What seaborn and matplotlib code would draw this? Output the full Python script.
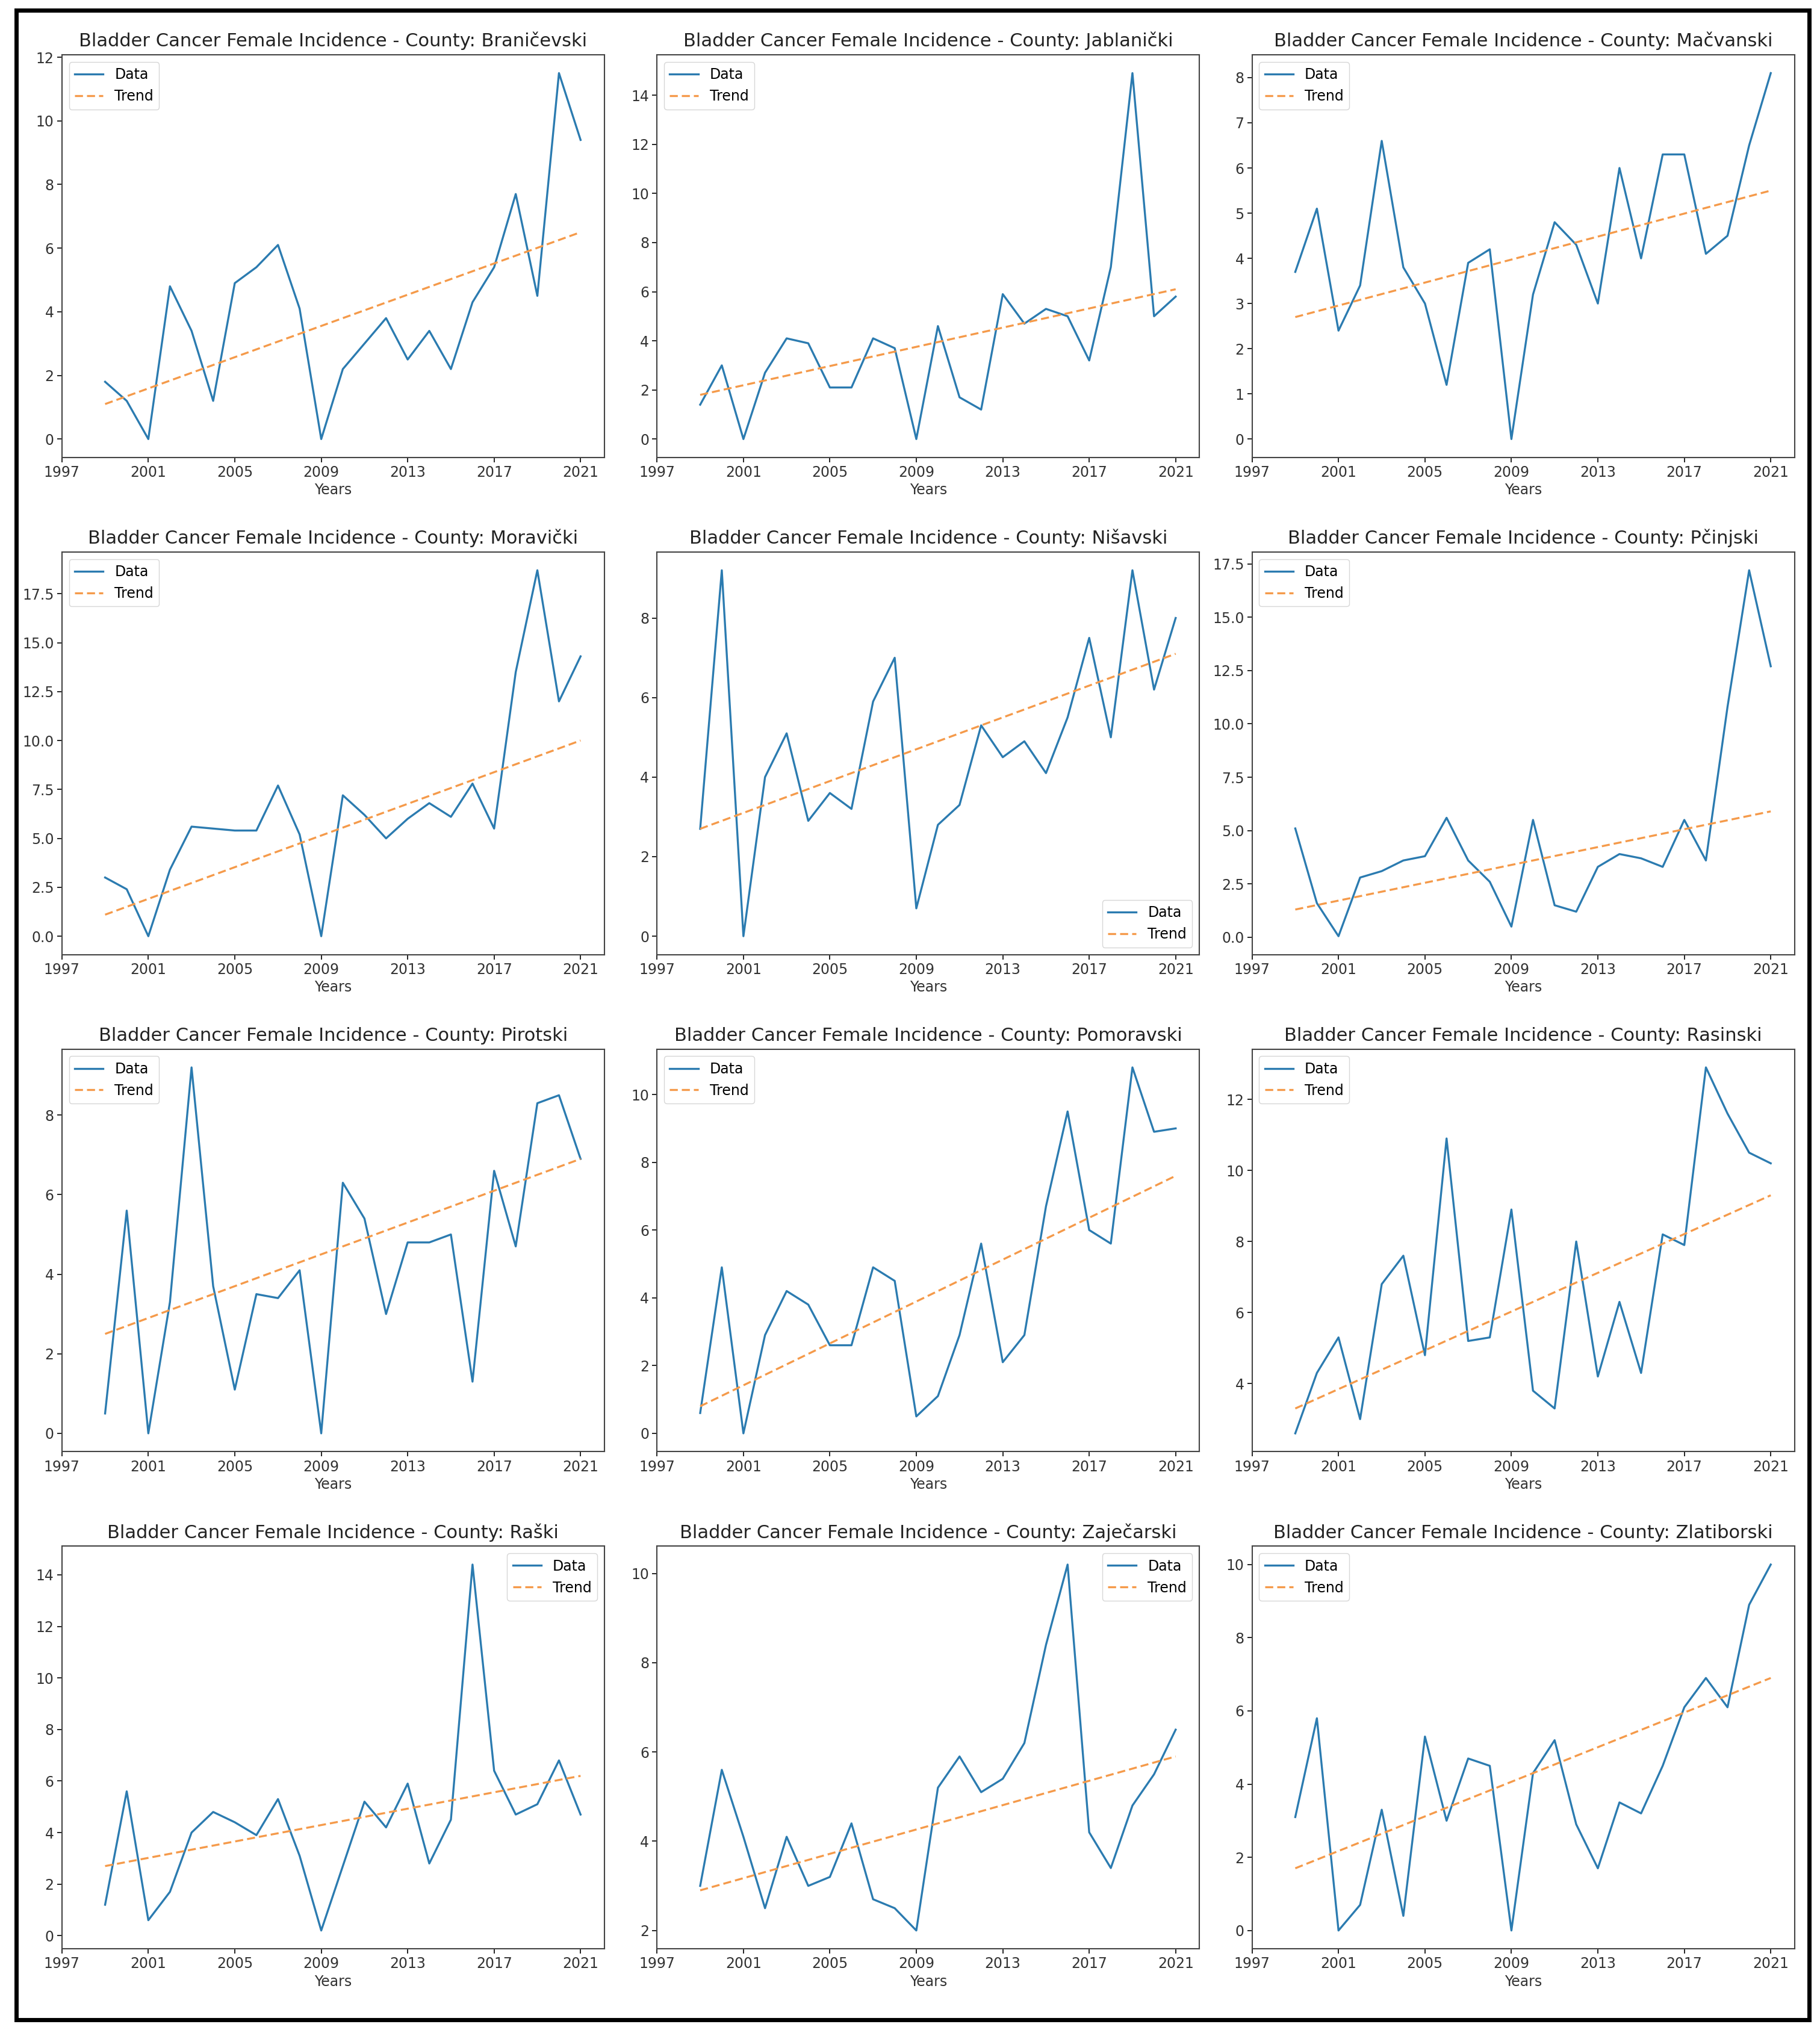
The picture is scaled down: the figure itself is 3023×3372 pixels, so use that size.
import numpy as np
import matplotlib
matplotlib.use("Agg")
import matplotlib.pyplot as plt
from matplotlib.patches import Rectangle
import seaborn as sns

# ---- data ----
years = list(range(1999, 2022))

counties = ["Braničevski", "Jablanički", "Mačvanski",
            "Moravički", "Nišavski", "Pčinjski",
            "Pirotski", "Pomoravski", "Rasinski",
            "Raški", "Zaječarski", "Zlatiborski"]

branicevski = [1.8, 1.2, 0.0, 4.8, 3.4, 1.2, 4.9, 5.4, 6.1, 4.1, 0.0, 2.2, 3.0, 3.8, 2.5, 3.4, 2.2, 4.3, 5.4, 7.7, 4.5, 11.5, 9.4]
jablanicki = [1.4, 3.0, 0.0, 2.7, 4.1, 3.9, 2.1, 2.1, 4.1, 3.7, 0.0, 4.6, 1.7, 1.2, 5.9, 4.7, 5.3, 5.0, 3.2, 7.0, 14.9, 5.0, 5.8]
macvanski = [3.7, 5.1, 2.4, 3.4, 6.6, 3.8, 3.0, 1.2, 3.9, 4.2, 0.0, 3.2, 4.8, 4.3, 3.0, 6.0, 4.0, 6.3, 6.3, 4.1, 4.5, 6.5, 8.1]
moravicki = [3.0, 2.4, 0.0, 3.4, 5.6, 5.5, 5.4, 5.4, 7.7, 5.2, 0.0, 7.2, 6.2, 5.0, 6.0, 6.8, 6.1, 7.8, 5.5, 13.5, 18.7, 12.0, 14.3]
nisavski = [2.7, 9.2, 0.0, 4.0, 5.1, 2.9, 3.6, 3.2, 5.9, 7.0, 0.7, 2.8, 3.3, 5.3, 4.5, 4.9, 4.1, 5.5, 7.5, 5.0, 9.2, 6.2, 8.0]
pcinjski = [5.1, 1.6, 0.05, 2.8, 3.1, 3.6, 3.8, 5.6, 3.6, 2.6, 0.5, 5.5, 1.5, 1.2, 3.3, 3.9, 3.7, 3.3, 5.5, 3.6, 10.8, 17.2, 12.7]
pirotski = [0.5, 5.6, 0.0, 3.3, 9.2, 3.7, 1.1, 3.5, 3.4, 4.1, 0.0, 6.3, 5.4, 3.0, 4.8, 4.8, 5.0, 1.3, 6.6, 4.7, 8.3, 8.5, 6.9]
pomoravski = [0.6, 4.9, 0.0, 2.9, 4.2, 3.8, 2.6, 2.6, 4.9, 4.5, 0.5, 1.1, 2.9, 5.6, 2.1, 2.9, 6.7, 9.5, 6.0, 5.6, 10.8, 8.9, 9.0]
rasinski = [2.6, 4.3, 5.3, 3.0, 6.8, 7.6, 4.8, 10.9, 5.2, 5.3, 8.9, 3.8, 3.3, 8.0, 4.2, 6.3, 4.3, 8.2, 7.9, 12.9, 11.6, 10.5, 10.2]
raski = [1.2, 5.6, 0.6, 1.7, 4.0, 4.8, 4.4, 3.9, 5.3, 3.1, 0.2, 2.7, 5.2, 4.2, 5.9, 2.8, 4.5, 14.4, 6.4, 4.7, 5.1, 6.8, 4.7]
zajecarski = [3.0, 5.6, 4.1, 2.5, 4.1, 3.0, 3.2, 4.4, 2.7, 2.5, 2.0, 5.2, 5.9, 5.1, 5.4, 6.2, 8.4, 10.2, 4.2, 3.4, 4.8, 5.5, 6.5]
zlatiborski = [3.1, 5.8, 0.0, 0.7, 3.3, 0.4, 5.3, 3.0, 4.7, 4.5, 0.0, 4.3, 5.2, 2.9, 1.7, 3.5, 3.2, 4.5, 6.1, 6.9, 6.1, 8.9, 10.0]

series = [branicevski, jablanicki, macvanski, moravicki, nisavski, pcinjski,
          pirotski, pomoravski, rasinski, raski, zajecarski, zlatiborski]

# trend line values at 1999 and 2021
trend_start = [1.1, 1.8, 2.7, 1.1, 2.7, 1.3, 2.5, 0.8, 3.3, 2.7, 2.9, 1.7]
trend_end = [6.5, 6.1, 5.5, 10.0, 7.1, 5.9, 6.9, 7.6, 9.3, 6.2, 5.9, 6.9]

legend_loc = ["upper left", "upper left", "upper left",
              "upper left", "lower right", "upper left",
              "upper left", "upper left", "upper left",
              "upper right", "upper right", "upper left"]

# ---- plotting ----
plt.rcParams["font.family"] = ["DejaVu Sans"]

fig, axes = plt.subplots(4, 3, figsize=(30.23, 33.72), dpi=100)
fig.subplots_adjust(left=0.034, right=0.986, top=0.973, bottom=0.040,
                    wspace=0.097, hspace=0.235)

for ax, name, vals, t0, t1, loc in zip(axes.flat, counties, series,
                                       trend_start, trend_end, legend_loc):
    sns.lineplot(x=years, y=vals, ax=ax, color="#2b7bb0", linewidth=2.4, label="Data")
    sns.lineplot(x=[years[0], years[-1]], y=[t0, t1], ax=ax, color="#f59a4a",
                 linestyle=(0, (4, 2)), linewidth=2.4, label="Trend")
    ax.set_title(f"Bladder Cancer Female Incidence - County: {name}", fontsize=22,
                 pad=10, color="#222222")
    ax.set_xlabel("Years", fontsize=17, color="#333333")
    ax.set_ylabel("")
    ax.set_xlim(1997, 2022.1)
    ax.set_xticks(range(1997, 2022, 4))
    ax.tick_params(labelsize=17, length=6, width=1.2, labelcolor="#333333")
    for sp in ax.spines.values():
        sp.set_linewidth(1.5)
        sp.set_color("#444444")
    ax.legend(loc=loc, fontsize=17)

# outer frame of the screenshot
fig.patches.append(Rectangle((0.009, 0.005), 0.985, 0.99, transform=fig.transFigure,
                             fill=False, edgecolor="black", linewidth=5))

plt.savefig("out.png", dpi=100)
plt.close()
